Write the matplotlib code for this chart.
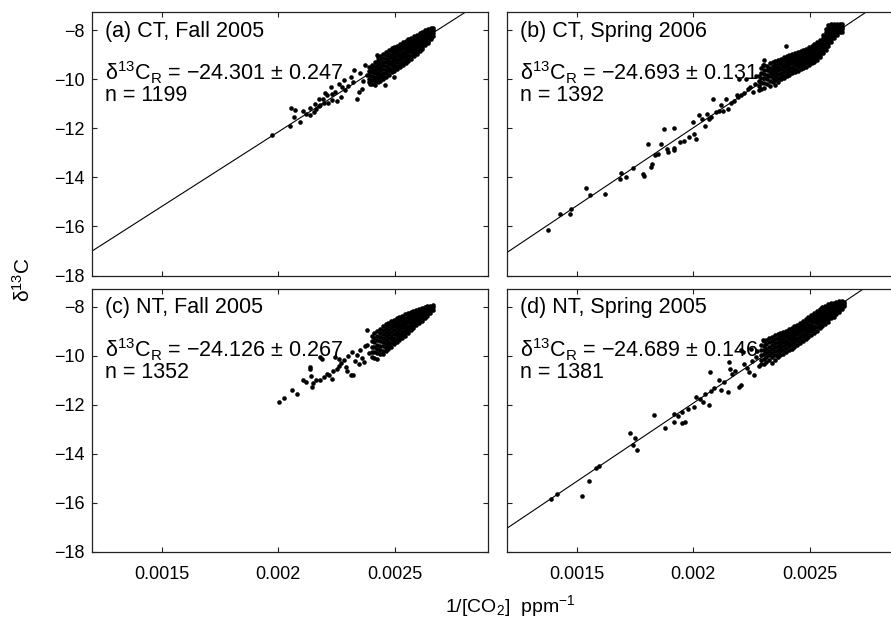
import numpy as np
import matplotlib
matplotlib.use("Agg")
import matplotlib.pyplot as plt

plt.rcParams['font.family'] = ['Liberation Sans', 'DejaVu Sans']
plt.rcParams['mathtext.fontset'] = 'custom'
plt.rcParams['mathtext.rm'] = 'Liberation Sans'
plt.rcParams['mathtext.it'] = 'Liberation Sans:italic'

# ---------------------------------------------------------------
# panel labels and Keeling-plot regression results
# ---------------------------------------------------------------
titles = ["(a) CT, Fall 2005", "(b) CT, Spring 2006",
          "(c) NT, Fall 2005", "(d) NT, Spring 2005"]
intercepts = [-24.301, -24.693, -24.126, -24.689]
errors = [0.247, 0.131, 0.267, 0.146]
counts = [1199, 1392, 1352, 1381]
slopes = [6081, 6361, None, 6382]   # (c) has no fitted line drawn

x_ticks = [0.0015, 0.002, 0.0025]
x_ticklabels = ["0.0015", "0.002", "0.0025"]
y_ticks = [-18, -16, -14, -12, -10, -8]

# ---------------------------------------------------------------
# scattered points (1/[CO2], d13C)
# ---------------------------------------------------------------
sparse_a = [
    (0.001973, -12.26), (0.002055, -11.16), (0.002073, -11.24), (0.002106, -11.27),
    (0.002066, -11.54), (0.002092, -11.74), (0.002052, -11.90), (0.002138, -11.16),
    (0.002159, -11.00), (0.002173, -10.79), (0.002180, -11.05), (0.002152, -11.33),
    (0.002138, -11.47), (0.002120, -11.40), (0.002195, -10.95), (0.002209, -10.65),
    (0.002224, -10.31), (0.002231, -10.86), (0.002245, -10.52), (0.002259, -10.18),
    (0.002267, -10.72), (0.002281, -10.04), (0.002288, -10.45), (0.002300, -10.25),
    (0.002310, -9.90), (0.002324, -9.63), (0.002338, -10.79), (0.002345, -10.50),
    (0.002360, -10.38), (0.002352, -9.75), (0.002365, -10.05), (0.002374, -9.43),
    (0.002380, -9.80), (0.002392, -10.20), (0.002400, -9.55), (0.002424, -9.02),
    (0.002410, -9.95), (0.002250, -10.90), (0.002200, -10.55), (0.002275, -10.30),
    (0.002320, -10.10), (0.002230, -10.60), (0.002190, -10.80), (0.002215, -10.98),
    (0.002160, -11.20), (0.002175, -11.10), (0.002458, -10.22), (0.002496, -9.90),
]
band_a = [
    (0.002390, [-9.50, -9.66, -9.83, -9.98, -10.12]),
    (0.002402, [-9.40, -9.55, -9.70, -9.86, -10.02, -10.18]),
    (0.002414, [-9.30, -9.45, -9.60, -9.75, -9.90, -10.05, -10.22]),
    (0.002426, [-9.08, -9.22, -9.38, -9.52, -9.68, -9.84, -9.98, -10.12]),
    (0.002438, [-9.05, -9.18, -9.32, -9.48, -9.62, -9.78, -9.92, -10.06]),
    (0.002450, [-8.98, -9.12, -9.27, -9.42, -9.57, -9.72, -9.86, -10.00]),
    (0.002462, [-8.88, -9.02, -9.16, -9.31, -9.46, -9.60, -9.75, -9.90]),
    (0.002474, [-8.82, -8.95, -9.10, -9.24, -9.38, -9.52, -9.66, -9.80]),
    (0.002486, [-8.72, -8.86, -9.00, -9.14, -9.28, -9.42, -9.56, -9.70]),
    (0.002498, [-8.66, -8.80, -8.94, -9.08, -9.22, -9.36, -9.50, -9.64]),
    (0.002510, [-8.62, -8.75, -8.88, -9.02, -9.16, -9.30, -9.44, -9.58]),
    (0.002522, [-8.55, -8.68, -8.82, -8.95, -9.08, -9.22, -9.36, -9.50]),
    (0.002534, [-8.48, -8.60, -8.73, -8.87, -9.00, -9.14, -9.28, -9.42]),
    (0.002546, [-8.42, -8.55, -8.68, -8.80, -8.93, -9.06, -9.20, -9.33]),
    (0.002558, [-8.36, -8.48, -8.60, -8.73, -8.86, -8.99, -9.12, -9.25]),
    (0.002570, [-8.30, -8.42, -8.54, -8.66, -8.78, -8.90, -9.03, -9.15]),
    (0.002582, [-8.24, -8.36, -8.48, -8.60, -8.72, -8.84, -8.96, -9.06]),
    (0.002594, [-8.17, -8.29, -8.41, -8.53, -8.65, -8.77, -8.89, -8.98]),
    (0.002606, [-8.12, -8.24, -8.36, -8.48, -8.60, -8.72, -8.84]),
    (0.002618, [-8.06, -8.18, -8.30, -8.42, -8.54, -8.66, -8.76]),
    (0.002630, [-8.00, -8.12, -8.24, -8.36, -8.48, -8.60]),
    (0.002642, [-7.96, -8.06, -8.18, -8.30, -8.42, -8.52]),
    (0.002654, [-7.92, -8.02, -8.14, -8.26, -8.36]),
    (0.002664, [-7.90, -8.00, -8.12, -8.22]),
]

sparse_b = [
    (0.001374, -16.13), (0.001429, -15.48), (0.001470, -15.51), (0.001474, -15.28),
    (0.001538, -14.42), (0.001558, -14.73), (0.001622, -14.69), (0.001684, -14.05),
    (0.001690, -13.80), (0.001709, -13.99), (0.001743, -13.62), (0.001783, -13.85),
    (0.001790, -13.95), (0.001805, -12.63), (0.001822, -13.44), (0.001818, -13.56),
    (0.001836, -13.10), (0.001850, -13.03), (0.001862, -12.63), (0.001876, -12.01),
    (0.001887, -12.83), (0.001890, -12.95), (0.001916, -11.99), (0.001916, -12.90),
    (0.001918, -12.78), (0.001943, -12.56), (0.001960, -12.50), (0.001983, -12.35),
    (0.002012, -12.42), (0.002004, -12.22), (0.002000, -11.74), (0.002026, -11.47),
    (0.002036, -11.60), (0.002050, -11.92), (0.002066, -11.62), (0.002076, -11.54),
    (0.002086, -10.80), (0.002098, -11.35), (0.002110, -11.28), (0.002126, -11.27),
    (0.002140, -10.79), (0.002150, -11.20), (0.002162, -10.95), (0.002175, -10.90),
    (0.002190, -10.72), (0.002197, -9.97), (0.002204, -10.62), (0.002218, -10.55),
    (0.002226, -9.99), (0.002233, -10.40), (0.002245, -10.30), (0.002258, -10.50),
    (0.002265, -10.20), (0.002270, -9.85), (0.002297, -9.43), (0.002304, -9.22),
    (0.002397, -8.62), (0.002118, -11.06), (0.002060, -11.40), (0.002186, -10.65),
]
band_b = [
    (0.002280, [-9.85, -10.05, -10.25, -10.45]),
    (0.002292, [-9.55, -9.75, -9.95, -10.15, -10.40]),
    (0.002304, [-9.40, -9.60, -9.78, -9.96, -10.15, -10.35]),
    (0.002316, [-9.45, -9.62, -9.80, -9.98, -10.18]),
    (0.002328, [-9.35, -9.52, -9.70, -9.88, -10.05, -10.25]),
    (0.002340, [-9.30, -9.46, -9.62, -9.78, -9.95, -10.12]),
    (0.002352, [-9.25, -9.40, -9.55, -9.70, -9.86, -10.02, -10.22]),
    (0.002364, [-9.20, -9.34, -9.48, -9.63, -9.78, -9.94, -10.10]),
    (0.002376, [-9.15, -9.29, -9.43, -9.57, -9.72, -9.87, -10.00]),
    (0.002388, [-9.08, -9.22, -9.36, -9.50, -9.65, -9.80, -9.94]),
    (0.002400, [-9.05, -9.18, -9.31, -9.45, -9.59, -9.73, -9.88]),
    (0.002412, [-9.00, -9.13, -9.26, -9.39, -9.52, -9.66, -9.80]),
    (0.002424, [-8.96, -9.09, -9.22, -9.35, -9.48, -9.61, -9.75]),
    (0.002436, [-8.92, -9.04, -9.17, -9.30, -9.43, -9.56, -9.70]),
    (0.002448, [-8.88, -9.00, -9.12, -9.25, -9.38, -9.51, -9.64]),
    (0.002460, [-8.84, -8.96, -9.08, -9.20, -9.33, -9.46, -9.59]),
    (0.002472, [-8.78, -8.90, -9.02, -9.14, -9.27, -9.40, -9.54]),
    (0.002484, [-8.74, -8.86, -8.98, -9.10, -9.22, -9.35, -9.48]),
    (0.002496, [-8.68, -8.80, -8.92, -9.04, -9.16, -9.29, -9.42]),
    (0.002508, [-8.62, -8.74, -8.86, -8.98, -9.10, -9.22, -9.35]),
    (0.002520, [-8.56, -8.68, -8.80, -8.92, -9.04, -9.16, -9.28]),
    (0.002532, [-8.48, -8.60, -8.72, -8.84, -8.96, -9.08, -9.20]),
    (0.002544, [-8.40, -8.52, -8.64, -8.76, -8.88, -9.00, -9.10]),
    (0.002556, [-8.20, -8.32, -8.44, -8.56, -8.68, -8.80, -8.92]),
    (0.002568, [-7.95, -8.08, -8.20, -8.32, -8.44, -8.56, -8.68, -8.82]),
    (0.002580, [-7.78, -7.90, -8.02, -8.14, -8.26, -8.38, -8.50, -8.64]),
    (0.002592, [-7.74, -7.86, -7.98, -8.10, -8.22, -8.34, -8.46]),
    (0.002604, [-7.73, -7.85, -7.97, -8.09, -8.21, -8.33]),
    (0.002616, [-7.73, -7.85, -7.97, -8.09, -8.20]),
    (0.002628, [-7.73, -7.85, -7.97, -8.08]),
    (0.002640, [-7.73, -7.85, -7.96, -8.05]),
]

sparse_c = [
    (0.002003, -11.90), (0.002024, -11.70), (0.002060, -11.40), (0.002082, -11.54),
    (0.002107, -10.97), (0.002120, -11.05), (0.002136, -10.52), (0.002140, -10.80),
    (0.002143, -11.27), (0.002150, -11.10), (0.002160, -11.00), (0.002179, -10.99),
    (0.002186, -10.11), (0.002195, -10.85), (0.002208, -10.72), (0.002229, -10.93),
    (0.002244, -10.04), (0.002250, -10.55), (0.002262, -10.40), (0.002270, -10.30),
    (0.002282, -10.15), (0.002290, -10.45), (0.002300, -10.00), (0.002310, -10.79),
    (0.002322, -10.79), (0.002318, -9.85), (0.002330, -10.20), (0.002338, -9.95),
    (0.002345, -10.35), (0.002352, -9.75), (0.002360, -10.10), (0.002367, -10.24),
    (0.002372, -9.60), (0.002380, -9.57), (0.002381, -8.95), (0.002390, -9.90),
    (0.002138, -10.45), (0.002180, -10.04), (0.002216, -10.79), (0.002259, -10.11),
    (0.002236, -10.60), (0.002296, -10.62),
]
band_c = [
    (0.002400, [-9.20, -9.40, -9.62, -9.85, -10.05]),
    (0.002412, [-9.05, -9.25, -9.45, -9.65, -9.85, -10.10]),
    (0.002424, [-9.00, -9.18, -9.36, -9.54, -9.72, -9.90, -10.12]),
    (0.002436, [-8.90, -9.07, -9.24, -9.41, -9.58, -9.75, -9.92]),
    (0.002448, [-8.78, -8.94, -9.10, -9.27, -9.44, -9.61, -9.78, -9.92]),
    (0.002460, [-8.70, -8.86, -9.02, -9.18, -9.34, -9.50, -9.66, -9.82]),
    (0.002472, [-8.64, -8.80, -8.95, -9.10, -9.26, -9.42, -9.57, -9.72]),
    (0.002484, [-8.58, -8.73, -8.88, -9.03, -9.18, -9.33, -9.48, -9.62]),
    (0.002496, [-8.52, -8.66, -8.80, -8.95, -9.10, -9.25, -9.40, -9.53]),
    (0.002508, [-8.46, -8.60, -8.74, -8.88, -9.02, -9.16, -9.30, -9.43]),
    (0.002520, [-8.40, -8.54, -8.68, -8.82, -8.96, -9.10, -9.23, -9.35]),
    (0.002532, [-8.36, -8.49, -8.62, -8.75, -8.88, -9.01, -9.14, -9.26]),
    (0.002544, [-8.31, -8.44, -8.57, -8.70, -8.83, -8.96, -9.08, -9.18]),
    (0.002556, [-8.26, -8.38, -8.50, -8.63, -8.76, -8.89, -9.00, -9.08]),
    (0.002568, [-8.20, -8.32, -8.44, -8.57, -8.70, -8.82, -8.95]),
    (0.002580, [-8.16, -8.28, -8.40, -8.52, -8.64, -8.76, -8.86]),
    (0.002592, [-8.12, -8.24, -8.36, -8.48, -8.60, -8.72]),
    (0.002604, [-8.08, -8.20, -8.32, -8.44, -8.56, -8.66]),
    (0.002616, [-8.04, -8.15, -8.27, -8.39, -8.50, -8.58]),
    (0.002628, [-8.00, -8.11, -8.22, -8.33, -8.44]),
    (0.002640, [-7.97, -8.07, -8.18, -8.29, -8.38]),
    (0.002652, [-7.95, -8.05, -8.15, -8.24]),
    (0.002664, [-7.93, -8.02, -8.12]),
]

sparse_d = [
    (0.001390, -15.85), (0.001416, -15.65), (0.001522, -15.71), (0.001554, -15.10),
    (0.001583, -14.56), (0.001593, -14.49), (0.001730, -13.13), (0.001750, -13.35),
    (0.001740, -13.65), (0.001757, -13.82), (0.001829, -12.42), (0.001877, -12.94),
    (0.001915, -12.35), (0.001915, -12.69), (0.001951, -12.29), (0.001951, -12.72),
    (0.001964, -12.70), (0.001936, -12.45), (0.001979, -12.15), (0.002004, -12.08),
    (0.002011, -11.67), (0.002030, -11.75), (0.002040, -11.90), (0.002050, -11.55),
    (0.002066, -12.01), (0.002073, -10.65), (0.002075, -11.45), (0.002090, -11.30),
    (0.002109, -10.97), (0.002119, -11.40), (0.002130, -11.05), (0.002154, -10.24),
    (0.002159, -10.52), (0.002147, -11.47), (0.002165, -10.75), (0.002180, -10.60),
    (0.002197, -11.27), (0.002204, -9.77), (0.002204, -11.20), (0.002211, -9.84),
    (0.002218, -10.35), (0.002230, -10.50), (0.002247, -9.70), (0.002250, -10.20),
    (0.002261, -10.79), (0.002270, -10.05), (0.002280, -10.40), (0.002297, -9.36),
    (0.002375, -9.16), (0.002240, -10.65), (0.002275, -9.80),
]
band_d = [
    (0.002290, [-9.55, -9.75, -9.95, -10.15, -10.35]),
    (0.002302, [-9.40, -9.58, -9.76, -9.94, -10.12, -10.32]),
    (0.002314, [-9.35, -9.52, -9.70, -9.88, -10.05, -10.25]),
    (0.002326, [-9.28, -9.45, -9.62, -9.80, -9.98, -10.16]),
    (0.002338, [-9.22, -9.38, -9.55, -9.72, -9.89, -10.06, -10.30]),
    (0.002350, [-9.16, -9.32, -9.48, -9.65, -9.82, -9.98, -10.15]),
    (0.002362, [-9.12, -9.27, -9.42, -9.58, -9.74, -9.90, -10.06]),
    (0.002374, [-9.08, -9.22, -9.37, -9.52, -9.67, -9.82, -9.98]),
    (0.002386, [-9.02, -9.16, -9.30, -9.45, -9.60, -9.75, -9.92]),
    (0.002398, [-8.97, -9.10, -9.24, -9.38, -9.53, -9.68, -9.85]),
    (0.002410, [-8.92, -9.05, -9.18, -9.32, -9.46, -9.61, -9.76]),
    (0.002422, [-8.86, -8.99, -9.12, -9.26, -9.40, -9.54, -9.70]),
    (0.002434, [-8.80, -8.93, -9.06, -9.19, -9.33, -9.47, -9.62]),
    (0.002446, [-8.72, -8.85, -8.98, -9.11, -9.25, -9.39, -9.55]),
    (0.002458, [-8.64, -8.77, -8.90, -9.03, -9.17, -9.31, -9.48]),
    (0.002470, [-8.57, -8.70, -8.83, -8.96, -9.10, -9.24, -9.40]),
    (0.002482, [-8.50, -8.63, -8.76, -8.89, -9.02, -9.16, -9.32]),
    (0.002494, [-8.42, -8.55, -8.68, -8.81, -8.94, -9.08, -9.24]),
    (0.002506, [-8.33, -8.46, -8.59, -8.72, -8.85, -8.99, -9.15]),
    (0.002518, [-8.24, -8.37, -8.50, -8.63, -8.76, -8.90, -9.06]),
    (0.002530, [-8.15, -8.28, -8.41, -8.54, -8.67, -8.81, -8.98]),
    (0.002542, [-8.07, -8.20, -8.33, -8.46, -8.59, -8.72, -8.88]),
    (0.002554, [-8.00, -8.13, -8.26, -8.38, -8.50, -8.63, -8.78]),
    (0.002566, [-7.95, -8.07, -8.19, -8.31, -8.43, -8.55, -8.68]),
    (0.002578, [-7.90, -8.02, -8.14, -8.26, -8.38, -8.50, -8.60]),
    (0.002590, [-7.86, -7.98, -8.10, -8.22, -8.34, -8.46]),
    (0.002602, [-7.83, -7.95, -8.07, -8.19, -8.31, -8.42]),
    (0.002614, [-7.80, -7.92, -8.04, -8.16, -8.27]),
    (0.002626, [-7.78, -7.90, -8.02, -8.13, -8.22]),
    (0.002638, [-7.78, -7.89, -8.00, -8.08]),
    (0.002648, [-7.80, -7.90, -7.98]),
]

sparse_all = [sparse_a, sparse_b, sparse_c, sparse_d]
band_all = [band_a, band_b, band_c, band_d]


def collect(sparse, band):
    xs = [p[0] for p in sparse]
    ys = [p[1] for p in sparse]
    for xc, col in band:
        xs += [xc] * len(col)
        ys += col
    return np.array(xs), np.array(ys)


# ---------------------------------------------------------------
# figure
# ---------------------------------------------------------------
W, H = 891, 627
fig = plt.figure(figsize=(W / 100, H / 100), dpi=100)
fig.patch.set_facecolor('white')

# axes boxes in pixels: left, top, width, height (right column runs off the page)
boxes = [(92, 12, 396, 263.5), (507, 12, 396, 263.5),
         (92, 288.5, 396, 263.5), (507, 288.5, 396, 263.5)]

xlim = (0.0012, 0.0029)
ylim = (-18, -7.25)

for i, (l, t, w, h) in enumerate(boxes):
    ax = fig.add_axes([l / W, 1 - (t + h) / H, w / W, h / H])
    xs, ys = collect(sparse_all[i], band_all[i])
    ax.plot(xs, ys, 'o', color='black', ms=3.3, mew=0, zorder=3)

    if slopes[i] is not None:
        xl = np.array(xlim)
        ax.plot(xl, intercepts[i] + slopes[i] * xl, color='black', lw=0.8, zorder=2)

    ax.set_xlim(*xlim)
    ax.set_ylim(*ylim)
    ax.set_xticks(x_ticks)
    ax.set_yticks(y_ticks)
    ax.tick_params(direction='in', length=3.5, width=0.8, top=True, right=True,
                   labelsize=13, color='#222222')
    ax.tick_params(axis='x', pad=10)
    ax.tick_params(axis='y', pad=5)
    if i >= 2:
        ax.set_xticklabels(x_ticklabels)
    else:
        ax.set_xticklabels([])
    if i % 2 == 1:
        ax.set_yticklabels([])
    for s in ax.spines.values():
        s.set_linewidth(0.9)
        s.set_color('#222222')

    ax.text(13 / w, 1 - 24.5 / h, titles[i], transform=ax.transAxes,
            fontsize=15.5, va='baseline', ha='left')
    ax.text(13 / w, 1 - 68.5 / h,
            r'δ$^{\mathregular{13}}$C$_{\mathregular{R}}$ = '
            + '\u2212%.3f \u00b1 %.3f' % (-intercepts[i], errors[i]),
            transform=ax.transAxes, fontsize=15.5, va='baseline', ha='left')
    ax.text(13 / w, 1 - 89 / h, 'n = %d' % counts[i], transform=ax.transAxes,
            fontsize=15.5, va='baseline', ha='left')

fig.text(23 / W, 1 - 280 / H, r'δ$^{\mathregular{13}}$C', rotation=90,
         ha='center', va='center', fontsize=15)
fig.text(510 / W, 1 - 612 / H, r'1/[CO$_{\mathregular{2}}$]  ppm$^{\mathregular{-1}}$',
         ha='center', va='baseline', fontsize=14)

fig.savefig('out.png', dpi=100, facecolor='white')
